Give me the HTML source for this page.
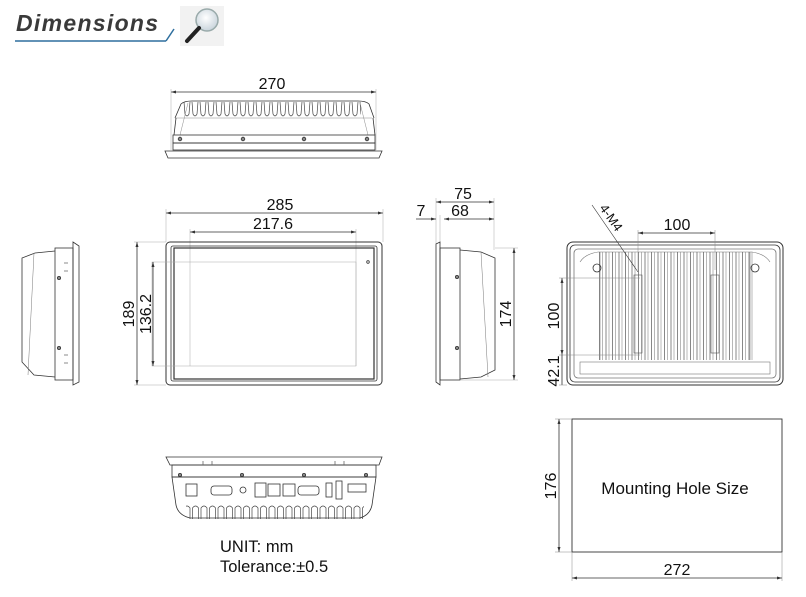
<!DOCTYPE html>
<html><head><meta charset="utf-8"><style>
html,body{margin:0;padding:0;background:#fff;width:806px;height:597px;overflow:hidden}
svg{display:block}
text{font-family:"Liberation Sans",sans-serif;fill:#111}
</style></head><body>
<svg width="806" height="597" viewBox="0 0 806 597" xmlns="http://www.w3.org/2000/svg">
<defs>
<pattern id="finT" x="183" y="0" width="8" height="200" patternUnits="userSpaceOnUse">
<path d="M1 102 L2 114 Q4 118 6 114 L7 102" fill="none" stroke="#444" stroke-width="0.7"/>
</pattern>
<pattern id="finB" x="183" y="0" width="8.5" height="600" patternUnits="userSpaceOnUse">
<path d="M1 519 L1 508 Q4 504 7 508 L7 519" fill="none" stroke="#444" stroke-width="0.7"/>
</pattern>
<pattern id="finV" x="605" y="0" width="6.5" height="600" patternUnits="userSpaceOnUse">
<line x1="1" y1="250" x2="1" y2="360" stroke="#555" stroke-width="0.7"/>
<line x1="4" y1="250" x2="4" y2="360" stroke="#888" stroke-width="0.6"/>
</pattern>
<radialGradient id="lens" cx="0.45" cy="0.4" r="0.6"><stop offset="0" stop-color="#fff"/><stop offset="1" stop-color="#c9d4dc"/></radialGradient>
</defs>

<!-- Header -->
<text x="16" y="31" font-size="23" font-weight="bold" font-style="italic" style="fill:#3a3a3a;letter-spacing:1.3px">Dimensions</text>
<line x1="15" y1="41" x2="166" y2="41" stroke="#2e6f9e" stroke-width="1.5"/>
<line x1="166" y1="41" x2="174" y2="29" stroke="#2e6f9e" stroke-width="1.5"/>
<rect x="180" y="6" width="44" height="40" fill="#f2f2f2"/>
<circle cx="207" cy="20" r="11" fill="url(#lens)" stroke="#9aa" stroke-width="1.5"/>
<line x1="199" y1="28" x2="187" y2="41" stroke="#222" stroke-width="4" stroke-linecap="round"/>

<g fill="none" stroke="#333" stroke-width="0.8">
<!-- TOP VIEW -->
<line x1="171" y1="92" x2="376" y2="92"/>
<line x1="171" y1="89" x2="171" y2="150" stroke="#aaa" stroke-width="0.5"/>
<line x1="376" y1="89" x2="376" y2="150" stroke="#aaa" stroke-width="0.5"/>
<path d="M175 118 L181 104 Q184 101 192 101 L358 101 Q366 101 369 104 L374 118"/>
<path d="M175 118 L372 118" stroke="#888" stroke-width="0.5"/>
<rect x="183" y="100" width="178" height="20" fill="url(#finT)" stroke="none"/>
<path d="M176 118 L174 135 M373 118 L375 135"/>
<path d="M188 103 L180 135 M360 103 L368 135" stroke="#888" stroke-width="0.5"/>
<rect x="173" y="135" width="202" height="8"/>
<rect x="173" y="143" width="202" height="7"/>
<path d="M165 151 L382 151 L379 158 L168 158 Z"/>
<g fill="#888"><circle cx="180" cy="139" r="1.8"/><circle cx="243" cy="139" r="1.8"/><circle cx="304" cy="139" r="1.8"/><circle cx="367" cy="139" r="1.8"/></g>

<!-- LEFT SIDE VIEW -->
<path d="M73 242 L79 246 L79 382 L73 385 Z"/>
<rect x="55" y="248" width="18" height="132"/>
<path d="M55 251 L35 253 L22 258 L22 362 L34 375 L55 377"/>
<path d="M34 253 L28 375" stroke="#777" stroke-width="0.5"/>
<g fill="#888"><circle cx="59" cy="278" r="1.6"/><circle cx="59" cy="348" r="1.6"/></g>
<path d="M64 263 h4 M64 271 h4 M64 355 h4 M64 363 h4" stroke="#666"/>

<!-- FRONT VIEW -->
<line x1="166" y1="213" x2="383" y2="213"/>
<line x1="166" y1="209" x2="166" y2="242" stroke="#aaa" stroke-width="0.5"/>
<line x1="383" y1="209" x2="383" y2="242" stroke="#aaa" stroke-width="0.5"/>
<line x1="190" y1="232" x2="356" y2="232"/>
<line x1="190" y1="229" x2="190" y2="366" stroke="#aaa" stroke-width="0.5"/>
<line x1="356" y1="229" x2="356" y2="366" stroke="#aaa" stroke-width="0.5"/>
<rect x="166" y="242" width="216" height="143" rx="4" stroke-width="1"/>
<rect x="171" y="246" width="206" height="135" rx="2"/>
<rect x="174" y="248" width="200" height="131" stroke-width="1.2"/>
<rect x="152" y="262" width="204" height="104" stroke="#aaa" stroke-width="0.5"/>
<circle cx="368" cy="262" r="1.3"/>
<line x1="137" y1="242" x2="137" y2="385"/>
<line x1="134" y1="242" x2="166" y2="242" stroke="#aaa" stroke-width="0.5"/>
<line x1="134" y1="385" x2="166" y2="385" stroke="#aaa" stroke-width="0.5"/>
<line x1="153" y1="262" x2="153" y2="366"/>

<!-- RIGHT SIDE VIEW -->
<line x1="436" y1="202" x2="494" y2="202"/>
<line x1="436" y1="198" x2="436" y2="244" stroke="#aaa" stroke-width="0.5"/>
<line x1="494" y1="198" x2="494" y2="250" stroke="#aaa" stroke-width="0.5"/>
<line x1="444" y1="219" x2="494" y2="219"/>
<line x1="416" y1="219" x2="436" y2="219"/>
<line x1="440" y1="215" x2="440" y2="244" stroke="#aaa" stroke-width="0.5"/>
<path d="M436 244 L440 242 L440 385 L436 382 Z"/>
<rect x="440" y="248" width="20" height="132"/>
<path d="M460 250 L481 252 L495 258 L495 370 L481 377 L460 379"/>
<path d="M481 252 L488 377" stroke="#777" stroke-width="0.5"/>
<g fill="#888"><circle cx="457" cy="277" r="1.6"/><circle cx="457" cy="348" r="1.6"/></g>
<line x1="514" y1="248" x2="514" y2="380"/>
<line x1="495" y1="248" x2="518" y2="248" stroke="#aaa" stroke-width="0.5"/>
<line x1="460" y1="380" x2="518" y2="380" stroke="#aaa" stroke-width="0.5"/>

<!-- BACK VIEW -->
<rect x="567" y="242" width="216" height="143" rx="6" stroke-width="1"/>
<rect x="570" y="245" width="210" height="137" rx="5"/>
<rect x="574" y="249" width="202" height="129" rx="4" stroke="#777"/>
<path d="M580 262 Q585 254 598 252 L752 252 Q765 254 770 262" stroke="#777" stroke-width="0.6"/>
<rect x="598" y="252" width="155" height="110" fill="url(#finV)" stroke="none"/>
<path d="M600 252 L600 360 M750 252 L750 360" stroke="#777" stroke-width="0.6"/>
<circle cx="597" cy="268" r="4"/>
<circle cx="755" cy="268" r="4"/>
<rect x="580" y="362" width="190" height="12" stroke="#777" stroke-width="0.6"/>
<rect x="634" y="275" width="8" height="78" stroke="#555" stroke-width="0.6"/>
<rect x="711" y="275" width="8" height="78" stroke="#555" stroke-width="0.6"/>
<line x1="638" y1="233" x2="715" y2="233"/>
<line x1="638" y1="230" x2="638" y2="270" stroke="#888" stroke-width="0.5"/>
<line x1="715" y1="230" x2="715" y2="270" stroke="#888" stroke-width="0.5"/>
<line x1="562" y1="278" x2="562" y2="355"/>
<line x1="559" y1="278" x2="640" y2="278" stroke="#888" stroke-width="0.5"/>
<line x1="559" y1="355" x2="640" y2="355" stroke="#888" stroke-width="0.5"/>
<line x1="562" y1="355" x2="562" y2="385"/>
<line x1="559" y1="385" x2="567" y2="385" stroke="#888" stroke-width="0.5"/>
<line x1="592" y1="205" x2="638" y2="272" stroke-width="0.6"/>

<!-- BOTTOM VIEW -->
<path d="M166 457 L382 457 L379 465 L170 465 Z"/>
<rect x="172" y="465" width="204" height="12"/>
<path d="M172 477 L376 477 L372 505 Q370 515 360 518 L190 518 Q178 515 176 505 Z"/>
<rect x="186" y="504" width="178" height="16" fill="url(#finB)" stroke="none"/>
<g fill="#888"><circle cx="180" cy="475" r="1.6"/><circle cx="242" cy="475" r="1.6"/><circle cx="304" cy="475" r="1.6"/><circle cx="366" cy="475" r="1.6"/></g>
<path d="M203 465 v-4 M212 465 v-4 M335 465 v-4 M344 465 v-4" stroke="#666"/>
<rect x="186" y="484" width="11" height="12"/>
<rect x="211" y="486" width="21" height="9" rx="3"/>
<circle cx="243" cy="490" r="3"/>
<rect x="255" y="483" width="11" height="14"/>
<rect x="268" y="484" width="12" height="12"/>
<rect x="283" y="484" width="12" height="12"/>
<rect x="298" y="486" width="21" height="9" rx="3"/>
<rect x="326" y="483" width="6" height="14"/>
<rect x="336" y="481" width="6" height="18"/>
<rect x="348" y="484" width="18" height="8"/>

<!-- MOUNTING HOLE -->
<rect x="572" y="419" width="210" height="133" stroke-width="0.9"/>
<line x1="559" y1="419" x2="559" y2="552"/>
<line x1="555" y1="419" x2="572" y2="419" stroke="#888" stroke-width="0.5"/>
<line x1="555" y1="552" x2="572" y2="552" stroke="#888" stroke-width="0.5"/>
<line x1="572" y1="578" x2="782" y2="578"/>
<line x1="572" y1="552" x2="572" y2="581" stroke="#888" stroke-width="0.5"/>
<line x1="782" y1="552" x2="782" y2="581" stroke="#888" stroke-width="0.5"/>
</g>

<!-- arrowheads -->
<g fill="#333">
<path d="M171 92 l5 -1.5 v3z M376 92 l-5 -1.5 v3z"/>
<path d="M166 213 l5 -1.5 v3z M383 213 l-5 -1.5 v3z"/>
<path d="M190 232 l5 -1.5 v3z M356 232 l-5 -1.5 v3z"/>
<path d="M137 242 l-1.5 5 h3z M137 385 l-1.5 -5 h3z"/>
<path d="M153 262 l-1.5 5 h3z M153 366 l-1.5 -5 h3z"/>
<path d="M436 202 l5 -1.5 v3z M494 202 l-5 -1.5 v3z"/>
<path d="M444 219 l5 -1.5 v3z M494 219 l-5 -1.5 v3z M436 219 l-5 -1.5 v3z"/>
<path d="M514 248 l-1.5 5 h3z M514 380 l-1.5 -5 h3z"/>
<path d="M638 233 l5 -1.5 v3z M715 233 l-5 -1.5 v3z"/>
<path d="M562 278 l-1.5 5 h3z M562 355 l-1.5 -5 h3z"/>
<path d="M559 419 l-1.5 5 h3z M559 552 l-1.5 -5 h3z"/>
<path d="M572 578 l5 -1.5 v3z M782 578 l-5 -1.5 v3z"/>
</g>

<g font-size="16" text-anchor="middle">
<text x="272" y="89">270</text>
<text x="280" y="210">285</text>
<text x="273" y="229">217.6</text>
<text x="463" y="199">75</text>
<text x="460" y="216">68</text>
<text x="421" y="216">7</text>
<text x="677" y="230">100</text>
<text transform="translate(134 314) rotate(-90)">189</text>
<text transform="translate(151 314) rotate(-90)">136.2</text>
<text transform="translate(511 314) rotate(-90)">174</text>
<text transform="translate(559 316) rotate(-90)">100</text>
<text transform="translate(559 371) rotate(-90)">42.1</text>
<text transform="translate(599 208) rotate(55)" font-size="13" text-anchor="start">4-M4</text>
<text transform="translate(556 486) rotate(-90)">176</text>
<text x="677" y="575">272</text>
</g>
<text x="675" y="494" font-size="17" text-anchor="middle">Mounting Hole Size</text>
<text x="220" y="552" font-size="16.5">UNIT: mm</text>
<text x="220" y="572" font-size="16.5">Tolerance:±0.5</text>
</svg>
</body></html>
